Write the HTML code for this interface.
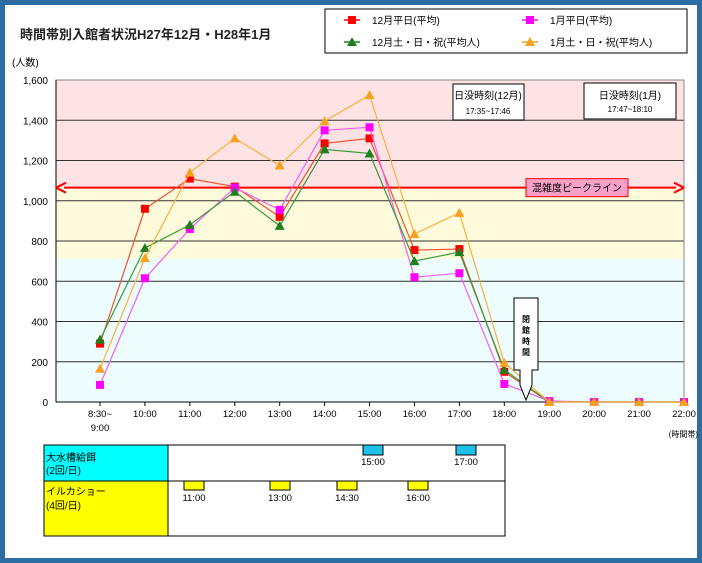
<!DOCTYPE html>
<html><head><meta charset="utf-8">
<style>
body{margin:0;width:702px;height:563px;overflow:hidden;background:#2c6ea3;font-family:"Liberation Sans","Noto Sans CJK JP",sans-serif;}
#frame{position:absolute;left:5px;top:5px;width:692px;height:553px;background:#fff;}
</style></head><body>
<div id="frame"></div>
<svg id="chart" width="702" height="563" style="position:absolute;left:0;top:0" font-family="Liberation Sans, Noto Sans CJK JP, sans-serif"></svg>
<script>
const categories=["8:30~","10:00","11:00","12:00","13:00","14:00","15:00","16:00","17:00","18:00","19:00","20:00","21:00","22:00"];
const decWeekday=[290,960,1110,1070,920,1285,1310,755,760,150,0,0,0,0];
const janWeekday=[85,615,860,1065,955,1350,1365,620,640,90,5,0,0,0];
const decWeekend=[310,765,880,1045,875,1255,1235,700,745,160,0,0,0,0];
const janWeekend=[165,715,1140,1310,1175,1395,1525,835,940,195,0,0,0,0];
const yTicks=[0,200,400,600,800,1000,1200,1400,1600];
const yTickLabels=["0","200","400","600","800","1,000","1,200","1,400","1,600"];
const peakValue=1065;
const zoneBounds=[711,1065,1600];

const svg=document.getElementById('chart');
const NS='http://www.w3.org/2000/svg';
const L=56,R=684,T=80,B=402;
const y=v=>B-(v/1600)*(B-T);
const x=i=>100+i*(684-100)/(categories.length-1);
function el(t,a,p){const e=document.createElementNS(NS,t);for(const k in a)e.setAttribute(k,a[k]);(p||svg).appendChild(e);return e;}
function txt(s,a,p){const e=el('text',a,p);e.textContent=s;return e;}

// zones
let z=el('rect',{x:L,y:y(zoneBounds[2]),width:R-L,height:y(zoneBounds[1])-y(zoneBounds[2]),fill:'#fde3e3'});


z=el('rect',{x:L,y:y(zoneBounds[1]),width:R-L,height:y(zoneBounds[0])-y(zoneBounds[1]),fill:'#fefbdc'});


z=el('rect',{x:L,y:y(zoneBounds[0]),width:R-L,height:B-y(zoneBounds[0]),fill:'#edfdfd'});



yTicks.forEach((v,i)=>{
  if(v>0&&v<1600){const g=el('line',{x1:L,x2:R,y1:y(v),y2:y(v),stroke:'#333','stroke-width':1});
  
  }
  const t=txt(yTickLabels[i],{x:48,y:y(v)+4,'font-size':10,'text-anchor':'end',fill:'#000'});
  
  
});
el('rect',{x:L,y:T,width:R-L,height:B-T,fill:'none',stroke:'#888','stroke-width':1});
el('line',{x1:L,x2:L,y1:T,y2:B,stroke:'#000'});
el('line',{x1:L,x2:R,y1:B,y2:B,stroke:'#000'});
categories.forEach((c,i)=>{
  el('line',{x1:x(i),x2:x(i),y1:B,y2:B+4,stroke:'#000'});
  const t=txt(c,{x:x(i),y:417,'font-size':9.5,'text-anchor':'middle'});
  
  
});
txt('9:00',{x:x(0),y:431,'font-size':9.5,'text-anchor':'middle'});
txt('(時間帯)',{x:698,y:437,'font-size':8,'text-anchor':'end'});
txt('(人数)',{x:12,y:66,'font-size':10});

// peak line
let pk=el('line',{x1:L+8,x2:R-8,y1:y(peakValue),y2:y(peakValue),stroke:'#f00','stroke-width':2});


el('path',{d:`M${L} ${y(peakValue)} l10 -5 M${L} ${y(peakValue)} l10 5 M${R} ${y(peakValue)} l-10 -5 M${R} ${y(peakValue)} l-10 5`,stroke:'#f00','stroke-width':2,fill:'none'});
el('rect',{x:526,y:y(peakValue)-9,width:102,height:18,fill:'#f9a0c8',stroke:'#e00'});
txt('混雑度ピークライン',{x:577,y:y(peakValue)+4,'font-size':10,'text-anchor':'middle'});

// sunset boxes
el('rect',{x:453,y:84,width:71,height:36,fill:'#fff',stroke:'#000'});
txt('日没時刻(12月)',{x:488,y:99,'font-size':10,'text-anchor':'middle'});
txt('17:35~17:46',{x:488,y:114,'font-size':8,'text-anchor':'middle'});
el('rect',{x:584,y:83,width:92,height:36,fill:'#fff',stroke:'#000'});
txt('日没時刻(1月)',{x:630,y:99,'font-size':10,'text-anchor':'middle'});
txt('17:47~18:10',{x:630,y:112,'font-size':8,'text-anchor':'middle'});

const series=[
 {d:decWeekday,c:'#f05030',m:'#f00',sh:'sq',n:'series-dec-weekday'},
 {d:janWeekday,c:'#f060f0',m:'#f0f',sh:'sq',n:'series-jan-weekday'},
 {d:decWeekend,c:'#3a9a3a',m:'#208020',sh:'tri',n:'series-dec-weekend'},
 {d:janWeekend,c:'#f8b040',m:'#f8a020',sh:'tri',n:'series-jan-weekend'}];
series.forEach(s=>{
  const g=el('g',{});
  
  
  el('polyline',{points:s.d.map((v,i)=>x(i)+','+y(v)).join(' '),fill:'none',stroke:s.c,'stroke-width':1.2},g);
  s.d.forEach((v,i)=>{
    let m;
    if(s.sh==='sq')m=el('rect',{x:x(i)-4,y:y(v)-4,width:8,height:8,fill:s.m},g);
    else m=el('path',{d:`M${x(i)} ${y(v)-5} L${x(i)+5} ${y(v)+4} L${x(i)-5} ${y(v)+4}Z`,fill:s.m},g);
    
    
  });
});

// closing arrow
el('path',{d:'M514 298 H538 V370 H532 V385 L526 400 L520 385 V370 H514 Z',fill:'#fff',stroke:'#000'});
['閉','館','時','間'].forEach((c,i)=>txt(c,{x:526,y:322+i*11,'font-size':8,'text-anchor':'middle','font-weight':'bold'}));

// title & legend
txt('時間帯別入館者状況H27年12月・H28年1月',{x:20,y:39,'font-size':13,'font-weight':'bold',fill:'#222'});
el('rect',{x:325,y:9,width:362,height:44,fill:'#fff',stroke:'#000'});
const leg=[[352,20,'12月平日(平均)',0],[530,20,'1月平日(平均)',1],[352,42,'12月土・日・祝(平均人)',2],[530,42,'1月土・日・祝(平均人)',3]];
leg.forEach(l=>{
  const s=series[l[3]];
  const g=el('g',{});
  
  
  el('line',{x1:l[0]-8,x2:l[0]+8,y1:l[1],y2:l[1],stroke:s.m,'stroke-width':1.5},g);
  if(s.sh==='sq')el('rect',{x:l[0]-4,y:l[1]-4,width:8,height:8,fill:s.m},g);
  else el('path',{d:`M${l[0]} ${l[1]-5} L${l[0]+5} ${l[1]+4} L${l[0]-5} ${l[1]+4}Z`,fill:s.m},g);
  txt(l[2],{x:l[0]+20,y:l[1]+4,'font-size':10},g);
});

// schedule table
el('rect',{x:44,y:445,width:461,height:91,fill:'#fff',stroke:'#000'});
el('rect',{x:44,y:445,width:124,height:46,fill:'#00ffff',stroke:'#000'});
el('rect',{x:44,y:481,width:124,height:55,fill:'#ffff00',stroke:'#000'});
el('line',{x1:44,x2:505,y1:481,y2:481,stroke:'#000'});
txt('大水槽給餌',{x:46,y:461,'font-size':10});
txt('(2回/日)',{x:46,y:474,'font-size':10});
txt('イルカショー',{x:46,y:495,'font-size':10});
txt('(4回/日)',{x:46,y:509,'font-size':10});
[[363,'15:00'],[456,'17:00']].forEach(b=>{el('rect',{x:b[0],y:445,width:20,height:10,fill:'#1ec0e8',stroke:'#000'});txt(b[1],{x:b[0]+10,y:465,'font-size':9.5,'text-anchor':'middle'});});
[[184,'11:00'],[270,'13:00'],[337,'14:30'],[408,'16:00']].forEach(b=>{el('rect',{x:b[0],y:481,width:20,height:9,fill:'#ffff00',stroke:'#000'});txt(b[1],{x:b[0]+10,y:501,'font-size':9.5,'text-anchor':'middle'});});
</script>
</body></html>
